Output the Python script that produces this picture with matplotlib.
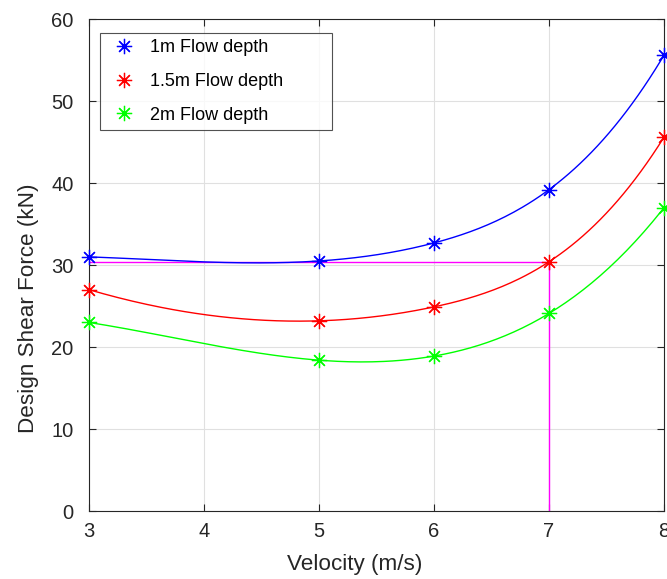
import numpy as np
import matplotlib.pyplot as plt

plt.rcParams['font.family'] = ['Liberation Sans', 'DejaVu Sans']

# velocity (m/s)
velocity = [3, 5, 6, 7, 8]
# design shear force (kN) for each flow depth
force_1m = [31.0, 30.5, 32.7, 39.2, 55.6]
force_15m = [27.0, 23.2, 24.9, 30.4, 45.6]
force_2m = [23.0, 18.4, 18.9, 24.1, 37.0]
labels = ['1m Flow depth', '1.5m Flow depth', '2m Flow depth']
colors = ['#0000ff', '#ff0000', '#00ff00']

# design point
design_v = 7
design_f = 30.4


def spline_curve(x, y, n=200):
    # not-a-knot cubic spline through 5 points (two cubics joined at middle knot)
    x = np.asarray(x, float)
    y = np.asarray(y, float)
    xm, ym = x[2], y[2]
    A = []
    rhs = []
    for i in [0, 1]:
        t = x[i] - xm
        A.append([t, t**2, t**3, 0])
        rhs.append(y[i] - ym)
    for i in [3, 4]:
        t = x[i] - xm
        A.append([t, t**2, 0, t**3])
        rhs.append(y[i] - ym)
    b, c, d1, d2 = np.linalg.solve(np.array(A), np.array(rhs))
    xs = np.linspace(x[0], x[-1], n)
    t = xs - xm
    ys = np.where(t <= 0, ym + b*t + c*t**2 + d1*t**3, ym + b*t + c*t**2 + d2*t**3)
    return xs, ys


fig = plt.figure(figsize=(6.67, 5.79), dpi=100)
ax = fig.add_axes([0.1334, 0.1174, 0.8621, 0.8496])

ax.plot([velocity[0], design_v], [design_f, design_f], color='#ff00ff', lw=1)
ax.plot([design_v, design_v], [0, design_f], color='#ff00ff', lw=1)

for ys, lab, col in zip([force_1m, force_15m, force_2m], labels, colors):
    xs, yy = spline_curve(velocity, ys)
    ax.plot(xs, yy, color=col, lw=1)
    ax.plot(velocity, ys, linestyle='none', marker=(8, 2, 0), markersize=11,
            markeredgewidth=0.9, color=col, label=lab, clip_on=False, zorder=5)

ax.set_xlim(3, 8)
ax.set_ylim(0, 60)
ax.set_xticks([3, 4, 5, 6, 7, 8])
ax.set_yticks(range(0, 61, 10))
ax.grid(True, color='#e0e0e0', lw=0.8)
ax.set_axisbelow(True)
for s in ax.spines.values():
    s.set_color('#262626')
    s.set_linewidth(0.8)
ax.tick_params(direction='in', top=True, right=True, length=5, width=0.8,
               colors='#262626', labelsize=14.5)
ax.tick_params(axis='y', pad=11)
ax.tick_params(axis='x', pad=8)
ax.set_xlabel('Velocity (m/s)', fontsize=16.2, color='#262626')
ax.set_ylabel('Design Shear Force (kN)', fontsize=16.2, color='#262626')
ax.xaxis.set_label_coords(0.4617, -0.087)
ax.yaxis.set_label_coords(-0.087, 0.4126)

leg = ax.legend(loc='upper left', bbox_to_anchor=(0.0191, 0.768, 0.403, 0.2035),
                mode='expand', fontsize=13, frameon=True, fancybox=False,
                edgecolor='#262626', labelspacing=0.92, handletextpad=0.43,
                borderpad=0.35, borderaxespad=0)
leg.get_frame().set_linewidth(0.8)

fig.savefig('out.png', dpi=100)
